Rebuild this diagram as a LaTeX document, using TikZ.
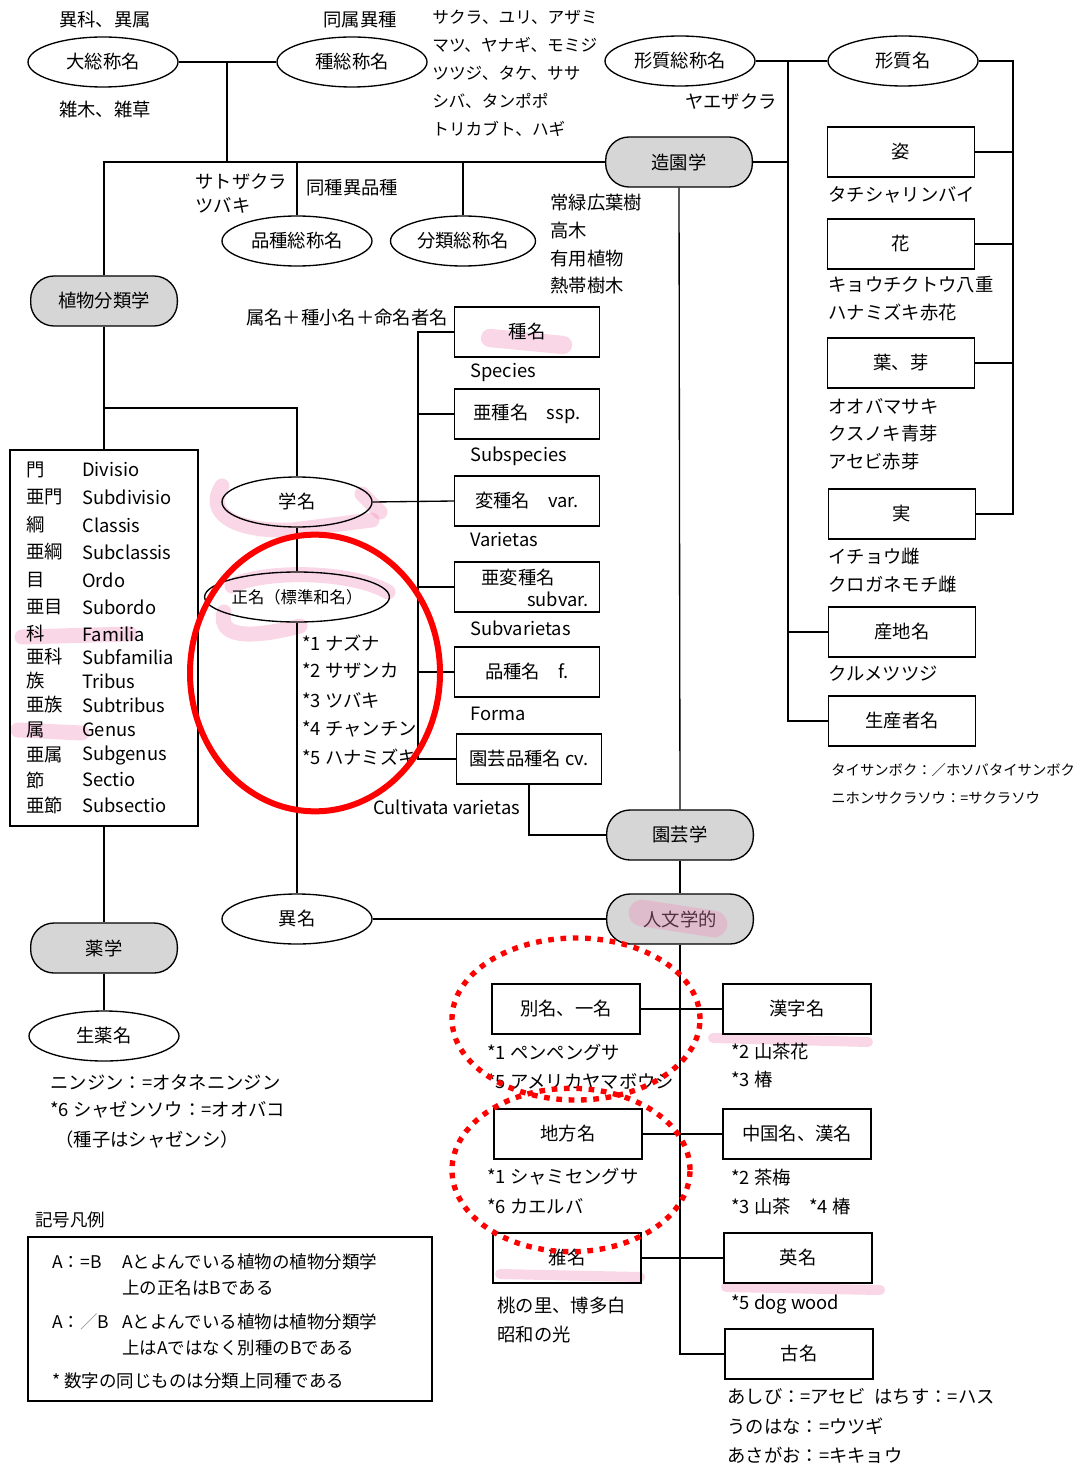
\documentclass[tikz,border=0pt]{standalone}
\usepackage{fontspec}
\setmainfont{Noto Sans CJK JP}
\usetikzlibrary{shapes.geometric}
\definecolor{hlpink}{RGB}{240,140,185}
\begin{document}
\begin{tikzpicture}[x=0.6pt,y=-0.6pt,
 lbl/.style={inner sep=0pt, font=\fontsize{11}{13}\selectfont},
 lw/.style={lbl, anchor=west},
 md/.style={inner sep=0pt, anchor=west, font=\fontsize{10}{12}\selectfont},
 sm/.style={inner sep=0pt, anchor=west, font=\fontsize{8.6}{10}\selectfont},
 lg/.style={inner sep=0pt, anchor=west, font=\fontsize{10.5}{12}\selectfont},
 oval/.style={draw, ellipse, minimum width=90pt, minimum height=30pt, inner sep=0pt, line width=0.8pt, font=\fontsize{11}{13}\selectfont},
 pill/.style={draw, rectangle, rounded corners=14pt, fill=black!16, minimum width=88pt, minimum height=30pt, inner sep=0pt, line width=0.8pt, font=\fontsize{11}{13}\selectfont},
 nbox/.style={draw, rectangle, minimum width=88pt, minimum height=30pt, inner sep=0pt, line width=0.8pt, font=\fontsize{11}{13}\selectfont},
 conn/.style={line width=0.8pt},
 hl/.style={line width=9pt, color=hlpink, opacity=0.35, line cap=round, line join=round},
]
\useasboundingbox (0,0) rectangle (1089,1466);

% ---------- highlights (behind) ----------
\draw[hl] (222,486) .. controls (205,512) and (232,532) .. (292,530) -- (372,520);
\draw[hl] (362,494) -- (380,512);
\draw[hl] (232,586) .. controls (262,570) and (350,570) .. (388,592);
\draw[hl] (224,612) .. controls (218,636) and (245,640) .. (300,626);
\draw[hl, line width=11pt] (490,338) -- (563,345);
\draw[hl] (22,637) -- (130,634);
\draw[hl] (18,730) -- (82,733);
\draw[hl, line width=6pt] (713,1038) -- (868,1042);
\draw[hl, line width=6pt] (726,1287) -- (880,1290);
\draw[hl, line width=6pt] (500,1274) -- (640,1277);

% ---------- top row ----------
\node[lbl] (t1) at (105,20) {異科、異属};
\node[oval] (dai) at (103,62) {大総称名};
\node[lbl] (t2) at (105,110) {雑木、雑草};
\node[lbl] (t3) at (360,20) {同属異種};
\node[oval] (shuso) at (352,62) {種総称名};
\node[md] (t4) at (432,17) {サクラ、ユリ、アザミ};
\node[md] (t5) at (432,45) {マツ、ヤナギ、モミジ};
\node[md] (t6) at (432,73) {ツツジ、タケ、ササ};
\node[md] (t7) at (432,101) {シバ、タンポポ};
\node[md] (t8) at (432,129) {トリカブト、ハギ};
\node[oval] (keisou) at (680,61) {形質総称名};
\node[oval] (keishitsu) at (903,61) {形質名};
\node[lbl] (t9) at (731,102) {ヤエザクラ};

% ---------- second row ----------
\node[pill] (zoen) at (679,162) {造園学};
\node[lw] (t10) at (195,182) {サトザクラ};
\node[lw] (t11) at (195,205) {ツバキ};
\node[lw] (t12) at (306,188) {同種異品種};
\node[oval] (hinshu) at (297,241) {品種総称名};
\node[oval, minimum width=87pt] (bunrui) at (463,241) {分類総称名};
\node[lw] (t13) at (550,203) {常緑広葉樹};
\node[lw] (t14) at (550,231) {高木};
\node[lw] (t15) at (550,259) {有用植物};
\node[lw] (t16) at (550,286) {熱帯樹木};
\node[pill] (shokubutsu) at (104,301) {植物分類学};
\node[lbl, anchor=east] (t17) at (448,318) {属名＋種小名＋命名者名};

% ---------- right column ----------
\node[nbox] (sugata) at (901,152) {姿};
\node[lw] (t18) at (828,195) {タチシャリンバイ};
\node[nbox] (hana) at (901,244) {花};
\node[lw] (t19) at (828,285) {キョウチクトウ八重};
\node[lw] (t20) at (828,313) {ハナミズキ赤花};
\node[nbox] (ha) at (901,363) {葉、芽};
\node[lw] (t21) at (828,406) {オオバマサキ};
\node[lw] (t22) at (828,434) {クスノキ青芽};
\node[lw] (t23) at (828,462) {アセビ赤芽};
\node[nbox] (mi) at (902,514) {実};
\node[lw] (t24) at (828,557) {イチョウ雌};
\node[lw] (t25) at (828,585) {クロガネモチ雌};
\node[nbox] (sanchi) at (902,632) {産地名};
\node[lw] (t26) at (828,674) {クルメツツジ};
\node[nbox] (seisan) at (902,721) {生産者名};
\node[sm] (t27) at (831,770) {タイサンボク：／ホソバタイサンボク};
\node[sm] (t28) at (831,798) {ニホンサクラソウ：=サクラソウ};

% ---------- scientific names ----------
\node[nbox, minimum width=87pt] (shu) at (527,332) {種名};
\node[lw] (t29) at (470,372) {Species};
\node[nbox, minimum width=87pt] (assp) at (527,414) {亜種名\quad ssp.};
\node[lw] (t30) at (470,456) {Subspecies};
\node[nbox, minimum width=87pt] (hen) at (527,501) {変種名\quad var.};
\node[lw] (t31) at (470,540) {Varietas};
\node[nbox, minimum width=87pt] (asub) at (527,587) {};
\node[lw] (t32) at (481,578) {亜変種名};
\node[lbl, anchor=east] (t33) at (589,599) {subvar.};
\node[lw] (t34) at (470,628) {Subvarietas};
\node[nbox, minimum width=87pt] (hin) at (527,672) {品種名\quad f.};
\node[lw] (t35) at (470,714) {Forma};
\node[nbox, minimum width=87pt] (en) at (529,759) {園芸品種名 cv.};
\node[lw] (t36) at (373,807) {Cultivata varietas};

\node[oval] (gaku) at (297,502) {学名};
\node[oval, font=\fontsize{9.8}{11}\selectfont] (seimei) at (297,597) {正名（標準和名）};
\node[lw] (t37) at (302,643) {*1 ナズナ};
\node[lw] (t38) at (302,671) {*2 サザンカ};
\node[lw] (t39) at (302,700) {*3 ツバキ};
\node[lw] (t40) at (302,729) {*4 チャンチン};
\node[lw] (t41) at (302,757) {*5 ハナミズキ};
\node[oval] (imei) at (297,919) {異名};

\node[pill] (engei) at (680,835) {園芸学};
\node[pill] (jinbun) at (680,919) {人文学的};
\draw[hl, line width=16pt] (642,913) -- (714,924);

% ---------- left list ----------
\node[draw, line width=0.8pt, minimum width=112.8pt, minimum height=225.6pt, inner sep=0pt] (list) at (104,638) {};
\foreach \ja/\la/\yy [count=\i] in {門/Divisio/470, 亜門/Subdivisio/497, 綱/Classis/525, 亜綱/Subclassis/552, 目/Ordo/580, 亜目/Subordo/607, 科/Familia/634, 亜科/Subfamilia/657, 族/Tribus/681, 亜族/Subtribus/705, 属/Genus/730, 亜属/Subgenus/755, 節/Sectio/780, 亜節/Subsectio/805}{
  \node[lw] (lj\i) at (26,\yy) {\ja};
  \node[lw] (ll\i) at (82,\yy) {\la};
}

\node[pill] (yaku) at (104,948) {薬学};
\node[oval] (shoyaku) at (104,1036) {生薬名};
\node[lw] (t42) at (50,1082) {ニンジン：=オタネニンジン};
\node[lw] (t43) at (50,1110) {*6 シャゼンソウ：=オオバコ};
\node[lw] (t44) at (55,1140) {（種子はシャゼンシ）};

% ---------- legend ----------
\node[lg] (t45) at (35,1220) {記号凡例};
\node[draw, line width=0.8pt, minimum width=242.4pt, minimum height=98.4pt, inner sep=0pt] (legend) at (230,1319) {};
\node[lg] (t46) at (52,1262) {A：=B};
\node[lg] (t47) at (122,1262) {Aとよんでいる植物の植物分類学};
\node[lg] (t48) at (122,1288) {上の正名はBである};
\node[lg] (t49) at (52,1322) {A：{\color{black!45}／}B};
\node[lg] (t50) at (122,1322) {Aとよんでいる植物は植物分類学};
\node[lg] (t51) at (122,1348) {上はAではなく別種のBである};
\node[lg] (t52) at (52,1381) {* 数字の同じものは分類上同種である};

% ---------- bottom right ----------
\node[nbox, minimum width=88.8pt] (betsu) at (566,1009) {別名、一名};
\node[nbox, minimum width=88.8pt] (kanji) at (797,1009) {漢字名};
\node[nbox, minimum width=88.8pt] (chihou) at (568,1134) {地方名};
\node[nbox, minimum width=88.8pt] (chugoku) at (797,1134) {中国名、漢名};
\node[nbox, minimum width=88.8pt] (ga) at (567,1258) {雅名};
\node[nbox, minimum width=88.8pt] (ei) at (798,1258) {英名};
\node[nbox, minimum width=88.8pt] (kome) at (799,1354) {古名};
\node[lw] (t53) at (487,1052) {*1 ペンペングサ};
\node[lw] (t54) at (487,1081) {*5 アメリカヤマボウシ};
\node[lw] (t55) at (487,1177) {*1 シャミセングサ};
\node[lw] (t56) at (487,1206) {*6 カエルバ};
\node[lw] (t57) at (497,1306) {桃の里、博多白};
\node[lw] (t58) at (497,1335) {昭和の光};
\node[lw] (t59) at (731,1052) {*2 山茶花};
\node[lw] (t60) at (731,1080) {*3 椿};
\node[lw] (t61) at (731,1178) {*2 茶梅};
\node[lw] (t62) at (731,1207) {*3 山茶\quad *4 椿};
\node[lw] (t63) at (731,1304) {*5 dog wood};
\node[lw] (t64) at (727,1397) {あしび：=アセビ\enspace はちす：=ハス};
\node[lw] (t65) at (727,1426) {うのはな：=ウツギ};
\node[lw] (t66) at (727,1455) {あさがお：=キキョウ};

% ---------- connectors ----------
\coordinate (j1) at (227,62);
\coordinate (v2) at (788,61);
\coordinate (v3) at (1013,61);
\coordinate (v4) at (418,332);
\coordinate (h2) at (104,408);
\draw[conn] (dai.east) -- (shuso.west);
\draw[conn] (j1) -- (j1 |- zoen.west);
\draw[conn] (shokubutsu.north) |- (zoen.west);
\draw[conn] (hinshu.north) -- (hinshu.north |- zoen.west);
\draw[conn] (bunrui.north) -- (bunrui.north |- zoen.west);
\draw[conn] (keisou.east) -- (keishitsu.west);
\draw[conn] (v2) |- (seisan.west);
\draw[conn] (zoen.east) -- (zoen.east -| v2);
\draw[conn] (sanchi.west) -- (sanchi.west -| v2);
\draw[conn] (keishitsu.east) -- (v3) |- (mi.east);
\draw[conn] (sugata.east) -- (sugata.east -| v3);
\draw[conn] (hana.east) -- (hana.east -| v3);
\draw[conn] (ha.east) -- (ha.east -| v3);
\draw[conn] (zoen.south) -- (engei.north);
\draw[conn] (engei.south) -- (jinbun.north);
\draw[conn] (jinbun.south) |- (kome.west);
\draw[conn] (betsu.east) -- (kanji.west);
\draw[conn] (chihou.east) -- (chugoku.west);
\draw[conn] (ga.east) -- (ei.west);
\draw[conn] (shokubutsu.south) -- (list.north);
\draw[conn] (list.south) -- (yaku.north);
\draw[conn] (yaku.south) -- (shoyaku.north);
\draw[conn] (h2) -| (gaku.north);
\draw[conn] (gaku.south) -- (seimei.north);
\draw[conn] (seimei.south) -- (imei.north);
\draw[conn] (imei.east) -- (jinbun.west);
\draw[conn] (gaku.east) -- (hen.west);
\draw[conn] (shu.west) -- (v4) -- (v4 |- en.west) -- (en.west);
\draw[conn] (assp.west) -- (assp.west -| v4);
\draw[conn] (asub.west) -- (asub.west -| v4);
\draw[conn] (hin.west) -- (hin.west -| v4);
\draw[conn] (en.south) |- (engei.west);

% ---------- red marks ----------
\draw[red, line width=3.6pt] (315,673) ellipse [x radius=75pt, y radius=83pt];
\draw[red, line width=3.2pt, dash pattern=on 3.4pt off 4pt] (576,1019) ellipse [x radius=74.4pt, y radius=48.6pt];
\draw[red, line width=3.2pt, dash pattern=on 3.4pt off 4pt] (571,1170) ellipse [x radius=71.4pt, y radius=49pt];
\end{tikzpicture}
\end{document}
